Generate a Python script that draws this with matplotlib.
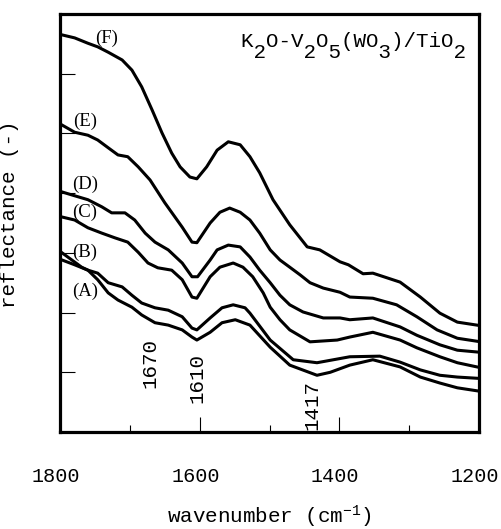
import matplotlib
matplotlib.use("Agg")
import matplotlib.pyplot as plt
from matplotlib.transforms import ScaledTranslation

# spectra (wavenumber in cm-1, reflectance in arbitrary offset units)
wn_F = [1797, 1779, 1760, 1746, 1731, 1711, 1697, 1683, 1668, 1654, 1640, 1628, 1614, 1604,
        1590, 1575, 1559, 1542, 1528, 1514, 1495, 1471, 1446, 1428, 1399, 1387, 1366, 1352,
        1313, 1284, 1256, 1231, 1203]
r_F = [66.5, 66.0, 65.1, 64.5, 63.6, 62.3, 60.6, 57.8, 53.9, 50.1, 46.7, 44.4, 42.7, 42.4,
       44.4, 47.2, 48.6, 48.1, 46.1, 43.4, 38.9, 34.7, 31.0, 30.5, 28.5, 28.0, 26.5, 26.6,
       25.1, 22.6, 19.9, 18.4, 17.9]

wn_E = [1797, 1779, 1760, 1746, 1731, 1717, 1703, 1688, 1671, 1650, 1625, 1611, 1604, 1585,
        1571, 1557, 1542, 1528, 1514, 1499, 1485, 1471, 1456, 1442, 1423, 1399, 1385, 1352,
        1318, 1289, 1260, 1231, 1203]
r_E = [51.4, 50.2, 49.7, 48.9, 47.6, 46.4, 46.1, 44.4, 42.2, 38.4, 34.3, 31.8, 31.7, 35.0,
       36.8, 37.5, 36.8, 35.5, 33.3, 30.5, 28.8, 27.6, 26.3, 25.0, 24.1, 23.4, 22.6, 22.4,
       21.3, 19.3, 17.1, 15.7, 15.2]

wn_D = [1797, 1783, 1760, 1740, 1726, 1707, 1693, 1678, 1664, 1645, 1625, 1611, 1603, 1585,
        1575, 1559, 1542, 1528, 1514, 1499, 1485, 1471, 1452, 1423, 1399, 1385, 1352, 1313,
        1289, 1256, 1231, 1203]
r_D = [40.2, 39.7, 38.9, 37.7, 36.7, 36.7, 35.5, 33.3, 31.8, 30.5, 28.3, 26.0, 26.0, 28.8,
       30.5, 31.3, 31.0, 29.3, 27.1, 25.0, 22.9, 21.3, 20.1, 19.1, 19.1, 18.8, 19.1, 17.6,
       16.2, 14.6, 13.7, 13.4]

wn_C = [1797, 1779, 1760, 1740, 1721, 1703, 1688, 1674, 1660, 1640, 1625, 1611, 1604, 1585,
        1571, 1552, 1538, 1524, 1509, 1499, 1485, 1471, 1442, 1403, 1385, 1352, 1313, 1289,
        1256, 1231, 1203]
r_C = [36.0, 35.5, 34.2, 33.3, 32.5, 31.8, 30.1, 28.3, 27.5, 27.1, 25.5, 22.6, 22.4, 26.0,
       27.6, 28.3, 27.6, 26.0, 23.3, 20.9, 18.8, 17.1, 15.1, 15.4, 15.9, 16.7, 15.4, 14.1,
       12.6, 11.6, 10.9]

wn_B = [1797, 1779, 1760, 1746, 1731, 1711, 1697, 1683, 1664, 1645, 1625, 1611, 1604, 1585,
        1568, 1552, 1535, 1528, 1499, 1466, 1432, 1385, 1342, 1313, 1284, 1256, 1231, 1203]
r_B = [28.8, 28.0, 27.1, 26.6, 25.0, 24.3, 22.9, 21.6, 20.8, 20.4, 19.3, 17.4, 17.1, 19.1,
       20.8, 21.3, 20.8, 19.9, 15.4, 12.1, 11.6, 12.6, 12.7, 11.7, 10.4, 9.5, 9.2, 9.0]

wn_A = [1797, 1783, 1769, 1760, 1746, 1731, 1717, 1697, 1683, 1664, 1645, 1625, 1611, 1604,
        1585, 1568, 1549, 1528, 1499, 1471, 1432, 1413, 1385, 1352, 1313, 1284, 1256, 1231, 1203]
r_A = [30.0, 28.8, 27.6, 27.1, 25.5, 23.3, 22.1, 20.9, 19.6, 18.3, 17.9, 17.1, 15.9, 15.4,
       16.7, 18.3, 18.8, 17.9, 14.2, 11.2, 9.5, 10.0, 11.2, 12.1, 10.9, 9.2, 8.2, 7.4, 6.9]

curve_names = ['(A)', '(B)', '(C)', '(D)', '(E)', '(F)']
label_wn = [1783, 1783, 1783, 1783, 1781, 1750]
label_r = [23.6, 30.1, 36.8, 41.4, 52.1, 66.0]

peak_text = ['1670', '1610', '1417']
peak_wn = [1671, 1604, 1439]
peak_r = [11.6, 9.0, 4.5]

mono = 'Liberation Mono'
serif = 'Liberation Serif'
plt.rcParams['mathtext.fontset'] = 'custom'
plt.rcParams['mathtext.rm'] = mono
plt.rcParams['mathtext.it'] = mono

fig = plt.figure(figsize=(5.01, 5.29), dpi=100)
ax = fig.add_axes([60 / 501, 1 - 432 / 529, 419 / 501, 418 / 529])

for wn, r in [(wn_A, r_A), (wn_B, r_B), (wn_C, r_C), (wn_D, r_D), (wn_E, r_E), (wn_F, r_F)]:
    ax.plot(wn, r, color='black', lw=2.2, solid_joinstyle='round')

for name, x, y in zip(curve_names, label_wn, label_r):
    ax.text(x, y, name, fontsize=13.5, family=serif, ha='left', va='center')

for t, x, y in zip(peak_text, peak_wn, peak_r):
    ax.text(x, y, t, fontsize=15, family=mono, rotation=90, ha='center', va='center')

# catalyst name: digits drawn as lowered full-width characters like the original
ax.text(1541, 64.5, 'K O-V O (WO )/TiO', fontsize=15, family=mono, ha='left', va='baseline')
ax.text(1541, 62.6, ' 2   2 5   3     2', fontsize=15, family=mono, ha='left', va='baseline')

ax.set_xlim(1800, 1200)
ax.set_ylim(0, 70)
ax.set_xticks([1800, 1600, 1400, 1200])
ax.set_xticks([1700, 1500, 1300], minor=True)
ax.set_yticks([10, 20, 30, 40, 50, 60])
ax.tick_params(axis='x', which='major', direction='in', length=10.5, width=0.8, pad=25,
               labelsize=14.5)
ax.tick_params(axis='x', which='minor', direction='in', length=5, width=0.8)
ax.tick_params(axis='y', direction='in', length=11, width=0.8, labelleft=False)
shift = ScaledTranslation(-4 / 100, 0, fig.dpi_scale_trans)
for lab in ax.get_xticklabels():
    lab.set_family(mono)
    lab.set_transform(lab.get_transform() + shift)

for s in ax.spines.values():
    s.set_linewidth(2.3)

ax.set_xlabel('wavenumber (cm$^{-1}$)', fontsize=15, family=mono)
ax.set_ylabel('reflectance (-)', fontsize=15, family=mono)
ax.xaxis.set_label_coords(0.5, -0.17)
ax.yaxis.set_label_coords(-0.098, 0.52)

fig.savefig('out.png', dpi=100)
